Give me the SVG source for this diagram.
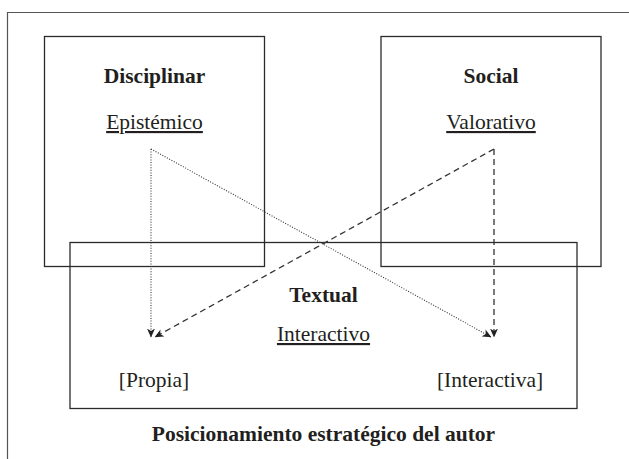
<svg xmlns="http://www.w3.org/2000/svg" width="629" height="459" viewBox="0 0 629 459">
<defs>
<style>
.box{fill:none;stroke:#2b2b2b;stroke-width:1.3}
.frame{fill:none;stroke:#555;stroke-width:1.2}
text{font-family:"Liberation Serif","DejaVu Serif",serif;font-size:21.5px;fill:#231f20;text-anchor:middle}
.b{font-weight:bold}
.u{text-decoration:underline}
.dot{fill:none;stroke:#333;stroke-width:1.1;stroke-dasharray:1 1.6}
.dash{fill:none;stroke:#333;stroke-width:1.3;stroke-dasharray:6 4}
</style>
<marker id="ah" viewBox="0 0 9 8" markerWidth="9" markerHeight="8" refX="8.5" refY="4" orient="auto" markerUnits="userSpaceOnUse">
<path d="M0,0 L9,4 L0,8 L2.5,4 Z" fill="#222"/>
</marker>
</defs>
<rect width="629" height="459" fill="#fff"/>
<path class="frame" d="M7.5,459 V12.5 H629"/>
<g id="disciplinar">
<rect class="box" x="44.5" y="36.5" width="220" height="230"/>
<text class="b" x="154.5" y="83">Disciplinar</text>
<text class="u" x="154.5" y="129">Epistémico</text>
</g>
<g id="social">
<rect class="box" x="381" y="36.5" width="220" height="230"/>
<text class="b" x="491" y="83">Social</text>
<text class="u" x="491" y="129">Valorativo</text>
</g>
<g id="textual">
<rect class="box" x="70" y="242.5" width="507" height="166"/>
<text class="b" x="323.5" y="302">Textual</text>
<text class="u" x="323.5" y="341">Interactivo</text>
<text x="154" y="387">[Propia]</text>
<text x="490" y="387">[Interactiva]</text>
</g>
<g id="connectors">
<path class="dot" d="M151,149 V337" marker-end="url(#ah)"/>
<path class="dot" d="M151,149 L491,337" marker-end="url(#ah)"/>
<path class="dash" d="M494,149 V337" marker-end="url(#ah)"/>
<path class="dash" d="M494,149 L155,337" marker-end="url(#ah)"/>
</g>
<text id="title" class="b" x="323.5" y="441">Posicionamiento estratégico del autor</text>
</svg>
